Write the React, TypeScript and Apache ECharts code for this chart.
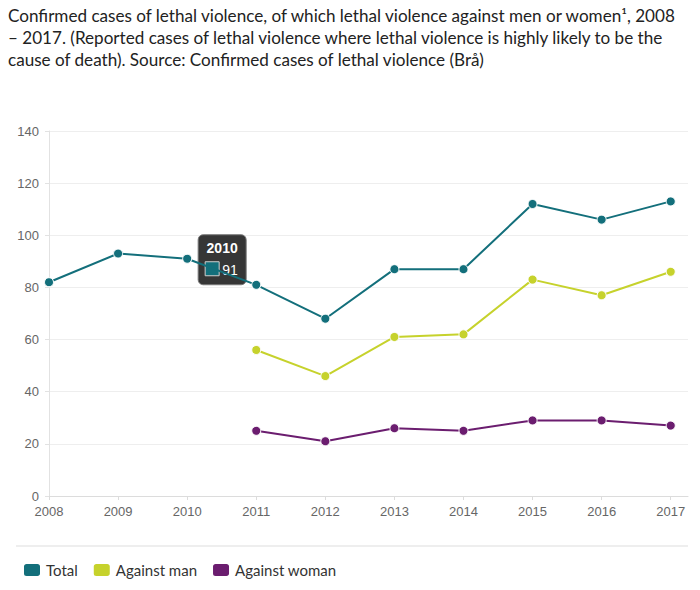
import React, { useEffect, useRef } from "react";
import * as echarts from "echarts";

const years = [2008, 2009, 2010, 2011, 2012, 2013, 2014, 2015, 2016, 2017];
const totalValues = [82, 93, 91, 81, 68, 87, 87, 112, 106, 113];
const manValues = [null, null, null, 56, 46, 61, 62, 83, 77, 86];
const womanValues = [null, null, null, 25, 21, 26, 25, 29, 29, 27];
const yTicks = [0, 20, 40, 60, 80, 100, 120, 140];
const seriesNames = ["Total", "Against man", "Against woman"];
const seriesColors = ["#136f7b", "#c6d22c", "#6b1d6f"];
const highlightYear = 2010;
const highlightValue = 91;

const titleText =
  "Confirmed cases of lethal violence, of which lethal violence against men or women\u00b9, 2008\n\u2013 2017. (Reported cases of lethal violence where lethal violence is highly likely to be the\ncause of death). Source: Confirmed cases of lethal violence (Br\u00e5)";

function pairs(vals: (number | null)[]) {
  return years
    .map((y, i) => [y, vals[i]])
    .filter((p) => p[1] !== null) as number[][];
}

export default function App() {
  const ref = useRef<HTMLDivElement>(null);
  useEffect(() => {
    document.body.style.margin = "0";
    if (!ref.current) return;
    const chart = echarts.init(ref.current, null, { renderer: "svg" });
    const allVals = [totalValues, manValues, womanValues];
    chart.setOption({
      animation: false,
      title: {
        text: titleText,
        left: 8,
        top: 4,
        padding: 0,
        textStyle: {
          fontFamily: "Lato",
          fontSize: 17.1,
          fontWeight: "normal",
          color: "#222",
          lineHeight: 22,
        },
      },
      legend: {
        left: 17,
        top: 557,
        icon: "roundRect",
        itemWidth: 18,
        itemHeight: 14,
        itemGap: 14,
        data: seriesNames,
        textStyle: { fontFamily: "Lato", fontSize: 15, color: "#333" },
      },
      grid: { left: 49, right: 12, top: 131, bottom: 94, containLabel: false },
      xAxis: {
        type: "value",
        min: years[0],
        max: years[years.length - 1] + 0.25,
        interval: 1,
        splitLine: { show: false },
        axisLine: { show: true, lineStyle: { color: "#dcdcdc" } },
        axisTick: {
          show: true,
          length: 4,
          lineStyle: { color: "#dcdcdc" },
          customValues: years,
        },
        axisLabel: {
          customValues: years,
          margin: 9,
          fontFamily: "Liberation Sans",
          fontSize: 13,
          color: "#666",
          formatter: (v: number) => String(v),
        },
      },
      yAxis: {
        type: "value",
        min: yTicks[0],
        max: yTicks[yTicks.length - 1],
        interval: 20,
        axisLine: { show: true, lineStyle: { color: "#e2e2e2" } },
        axisTick: { show: true, length: 4, lineStyle: { color: "#e2e2e2" } },
        splitLine: { show: true, lineStyle: { color: "#eeeeee" } },
        axisLabel: {
          margin: 10,
          fontFamily: "Liberation Sans",
          fontSize: 13,
          color: "#666",
        },
      },
      series: seriesNames.map((name, i) => ({
        name,
        type: "line",
        data: pairs(allVals[i]),
        symbol: "circle",
        symbolSize: 9,
        showAllSymbol: true,
        color: seriesColors[i],
        lineStyle: { width: 2, color: seriesColors[i] },
        itemStyle: { color: seriesColors[i], borderColor: "#fff", borderWidth: 1 },
        emphasis: { disabled: true },
      })),
    });

    const [px, py] = chart.convertToPixel({ gridIndex: 0 }, [highlightYear, highlightValue]) as number[];
    const bx = px + 11;
    const by = py - 24;
    chart.setOption({
      graphic: [
        {
          type: "line",
          shape: { x1: 16, y1: 546, x2: 688, y2: 546 },
          style: { stroke: "#dddddd", lineWidth: 1 },
        },
        {
          type: "group",
          x: bx,
          y: by,
          z: 100,
          children: [
            {
              type: "rect",
              shape: { x: 0, y: 0, width: 48, height: 50, r: 5 },
              style: { fill: "rgba(15,15,15,0.84)", stroke: "#777", lineWidth: 1 },
            },
            {
              type: "text",
              x: 24,
              y: 13,
              style: {
                text: String(highlightYear),
                fill: "#fff",
                font: "bold 14px 'Liberation Sans'",
                align: "center",
                verticalAlign: "middle",
              },
            },
            {
              type: "rect",
              shape: { x: 7, y: 27, width: 14, height: 14 },
              style: { fill: seriesColors[0], stroke: "#cfcfcf", lineWidth: 1 },
            },
            {
              type: "text",
              x: 24,
              y: 35,
              style: {
                text: String(highlightValue),
                fill: "#fff",
                font: "14px 'Liberation Sans'",
                align: "left",
                verticalAlign: "middle",
              },
            },
          ],
        },
      ],
    });
    return () => chart.dispose();
  }, []);
  return (
    <div
      ref={ref}
      style={{ position: "absolute", left: 0, top: 0, width: 700, height: 590 }}
    />
  );
}
